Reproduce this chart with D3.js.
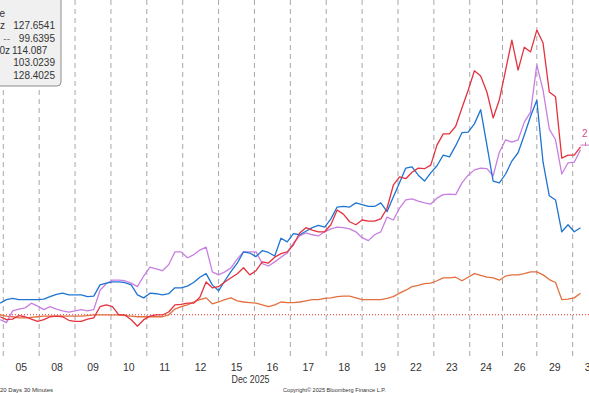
<!DOCTYPE html>
<html>
<head>
<meta charset="utf-8">
<script src="https://cdn.jsdelivr.net/npm/d3@7"></script>
<style>
  body { margin: 0; background: #fff; }
  svg { display: block; }
  text { font-family: "Liberation Sans", Arial, sans-serif; }
</style>
</head>
<body>
<div id="chart"></div>
<script>
// trading days on the axis and number of 30 minute bars in each
var dayLabels = ["05","08","09","10","11","12","15","16","17","18","19","22","23","24","26","29","30"];
var barsPerDay = [46,46,46,46,46,46,46,46,46,46,46,46,46,42,44,46,46];

// series sampled every 8 bars, first sample 4 bars before Dec 05 open
var startBar = -4;
var sampleStep = 8;

var red = [99.3,98.8,98.9,99.5,99.3,98.9,98.5,98.8,99.3,99.4,
  99.3,98.7,98.5,98.5,98.9,99.1,101.0,101.3,101.0,99.6,
  99.6,98.8,97.7,98.8,99.4,99.6,99.6,100.1,101.3,101.4,
  101.6,101.6,102.6,105.2,104.2,104.4,105.2,105.9,106.6,107.6,
  106.4,107.1,108.6,108.4,109.4,110.0,110.3,111.5,113.5,114.4,
  114.0,113.7,113.7,114.9,117.4,116.7,115.4,114.9,115.7,115.5,
  115.5,115.9,117.7,121.6,123.0,122.7,123.8,124.5,124.4,125.0,
  128.4,130.3,130.3,131.6,134.7,137.7,141.0,140.1,137.4,133.0,
  136.1,141.1,146.2,141.1,145.0,144.2,147.9,145.7,137.4,136.6,
  126.2,126.7,126.7,128.1];

var blue = [101.6,102.2,102.4,102.2,102.2,102.2,102.2,102.3,102.7,103.1,
  103.3,103.0,103.0,103.0,102.7,102.8,104.7,105.0,105.2,105.2,
  105.1,104.7,103.0,102.5,103.3,103.2,103.0,103.2,104.2,104.2,
  104.5,105.1,106.0,106.6,104.7,103.7,105.4,107.0,108.4,110.3,
  110.1,109.5,110.5,110.2,109.6,112.6,112.0,113.4,113.2,113.8,
  114.4,114.8,114.5,115.9,117.9,118.0,117.9,118.6,118.3,118.0,
  118.0,118.6,117.1,119.6,122.0,124.5,124.7,123.3,122.3,123.7,
  124.9,126.7,126.4,128.3,130.5,130.6,132.0,134.4,128.4,122.3,
  122.0,123.5,125.7,127.1,130.1,133.3,136.0,125.5,119.8,119.1,
  113.7,114.9,113.7,114.4];

var purple = [98.8,98.3,100.3,100.6,100.8,101.6,101.1,100.5,101.0,100.6,
  100.3,100.1,100.3,100.5,100.3,100.5,103.8,104.9,105.5,105.5,
  105.4,105.0,104.4,106.2,107.7,107.4,107.1,108.1,110.3,110.3,
  109.3,109.8,110.6,111.1,106.9,106.4,106.9,107.6,109.1,110.3,
  110.3,110.3,108.3,107.9,108.6,109.4,110.1,111.8,113.0,113.5,
  113.2,113.0,113.7,114.2,114.5,114.4,114.2,113.7,112.7,112.2,
  113.2,113.7,116.2,115.7,117.7,119.1,119.3,118.9,118.6,118.4,
  119.4,120.0,120.1,120.0,122.0,123.3,124.2,124.5,124.4,123.2,
  127.2,129.3,128.9,129.3,132.3,134.0,142.0,137.7,131.1,129.3,
  123.5,125.4,125.5,127.6];

var orange = [99.6,99.4,99.3,99.1,99.1,99.2,99.3,99.4,99.4,99.4,
  99.4,99.4,99.4,99.4,99.5,99.6,99.6,99.6,99.6,99.6,
  99.5,99.4,99.3,99.3,99.3,99.3,99.3,99.6,100.6,101.0,
  101.3,101.8,102.2,102.5,101.5,101.8,102.2,102.5,102.0,101.8,
  101.7,101.6,101.3,101.0,101.3,101.8,101.7,101.7,101.8,102.0,
  102.2,102.2,102.4,102.5,102.7,102.8,102.8,102.5,102.2,102.2,
  102.2,102.2,102.4,102.7,103.3,103.8,104.4,104.6,104.9,105.0,
  105.4,105.9,105.9,106.0,105.4,106.0,106.6,106.3,106.0,105.9,
  105.5,106.2,106.4,106.4,106.6,106.9,106.9,106.4,105.6,105.1,
  102.2,102.3,102.5,103.3];

var refLevel = 99.6395;
var legendNames = ["z", "--", "0z", "", ""];
var legendValues = ["127.6541", "99.6395", "114.087", "103.0239", "128.4025"];
var lastTag = 128.4025;

var width = 589, height = 393;

var svg = d3.select("#chart").append("svg")
    .attr("width", width)
    .attr("height", height);

// bar where each day starts
var dayStart = [];
var acc = 0;
for (var i = 0; i < barsPerDay.length; i++) {
    dayStart.push(acc);
    acc += barsPerDay[i];
}

var x = d3.scaleLinear()
    .domain([0, dayStart[dayStart.length - 1]])
    .range([3.3, 572.7]);

var y = d3.scaleLinear()
    .domain([94, 153])
    .range([348, 0]);

// day separators
svg.selectAll(".sep").data(dayStart)
    .enter()
    .append("line")
    .attr("class", "sep")
    .attr("x1", function (d) { return x(d); })
    .attr("x2", function (d) { return x(d); })
    .attr("y1", 0)
    .attr("y2", 356)
    .style("stroke", "#a6a6a6")
    .style("stroke-width", 1)
    .style("stroke-dasharray", "5,4");

// day labels
svg.selectAll(".day").data(dayLabels)
    .enter()
    .append("text")
    .attr("class", "day")
    .attr("x", function (d, i) { return x(dayStart[i] + barsPerDay[i] / 2); })
    .attr("y", 371)
    .attr("text-anchor", "middle")
    .style("font-size", "10.5px")
    .style("fill", "#333")
    .text(function (d) { return d; });

svg.append("text")
    .attr("x", x(dayStart[6] + barsPerDay[6] / 2) - 5)
    .attr("y", 383)
    .attr("textLength", 38)
    .attr("lengthAdjust", "spacingAndGlyphs")
    .style("font-size", "10.5px")
    .style("fill", "#333")
    .text("Dec 2025");

// reference level
svg.append("line")
    .attr("x1", 0)
    .attr("x2", width)
    .attr("y1", y(refLevel))
    .attr("y2", y(refLevel))
    .style("stroke", "#e03535")
    .style("stroke-width", 1)
    .style("stroke-dasharray", "1,2");

var line = d3.line()
    .x(function (d, i) { return x(startBar + i * sampleStep); })
    .y(function (d) { return y(d); });

var series = [
    { values: orange, color: "#e2703e" },
    { values: purple, color: "#c77fe2" },
    { values: blue, color: "#1f74d2" },
    { values: red, color: "#e4323f" }
];

svg.selectAll(".series").data(series)
    .enter()
    .append("path")
    .attr("class", "series")
    .attr("d", function (d) { return line(d.values); })
    .style("fill", "none")
    .style("stroke", function (d) { return d.color; })
    .style("stroke-width", 1.3)
    .style("stroke-linejoin", "round");

// last value tag on the right edge
var lastX = x(startBar + (purple.length - 1) * sampleStep);
svg.append("line")
    .attr("x1", lastX)
    .attr("x2", width)
    .attr("y1", y(lastTag))
    .attr("y2", y(lastTag))
    .style("stroke", "#d274c6")
    .style("stroke-width", 1);
svg.append("line")
    .attr("x1", 585.5)
    .attr("x2", 585.5)
    .attr("y1", y(lastTag) - 3)
    .attr("y2", y(lastTag) + 1)
    .style("stroke", "#d274c6")
    .style("stroke-width", 1);
svg.append("text")
    .attr("x", 582)
    .attr("y", y(lastTag) - 8)
    .style("font-size", "10px")
    .style("fill", "#d2508a")
    .text("2");

// legend box (cut by the left and top edges)
var legend = svg.append("g");
legend.append("rect")
    .attr("x", -6)
    .attr("y", -6)
    .attr("width", 67)
    .attr("height", 92)
    .attr("rx", 4)
    .style("fill", "#f0f0f0")
    .style("stroke", "#8c8c8c");

legend.append("text")
    .attr("x", 5)
    .attr("y", 16.5)
    .attr("text-anchor", "end")
    .style("font-size", "10px")
    .style("fill", "#333")
    .text("e");

legend.selectAll(".lname").data(legendNames)
    .enter()
    .append("text")
    .attr("class", "lname")
    .attr("x", function (d) { return d.length > 1 ? 10 : 5; })
    .attr("y", function (d, i) { return 29.3 + 12.3 * i; })
    .attr("text-anchor", "end")
    .style("font-size", "10px")
    .style("fill", function (d) { return d == "--" ? "#777" : "#333"; })
    .text(function (d) { return d; });

legend.selectAll(".lval").data(legendValues)
    .enter()
    .append("text")
    .attr("class", "lval")
    .attr("x", function (d, i) { return i == 2 ? 12 : 55; })
    .attr("y", function (d, i) { return 29.3 + 12.3 * i; })
    .attr("text-anchor", function (d, i) { return i == 2 ? "start" : "end"; })
    .style("font-size", "10px")
    .style("fill", "#333")
    .text(function (d) { return d; });

// footer
svg.append("text")
    .attr("x", 0)
    .attr("y", 392)
    .style("font-size", "6px")
    .style("fill", "#333")
    .text("20 Days 30 Minutes");

svg.append("text")
    .attr("x", 283)
    .attr("y", 392)
    .style("font-size", "5.6px")
    .style("fill", "#333")
    .text("Copyright\u00a9 2025 Bloomberg Finance L.P.");
</script>
</body>
</html>
